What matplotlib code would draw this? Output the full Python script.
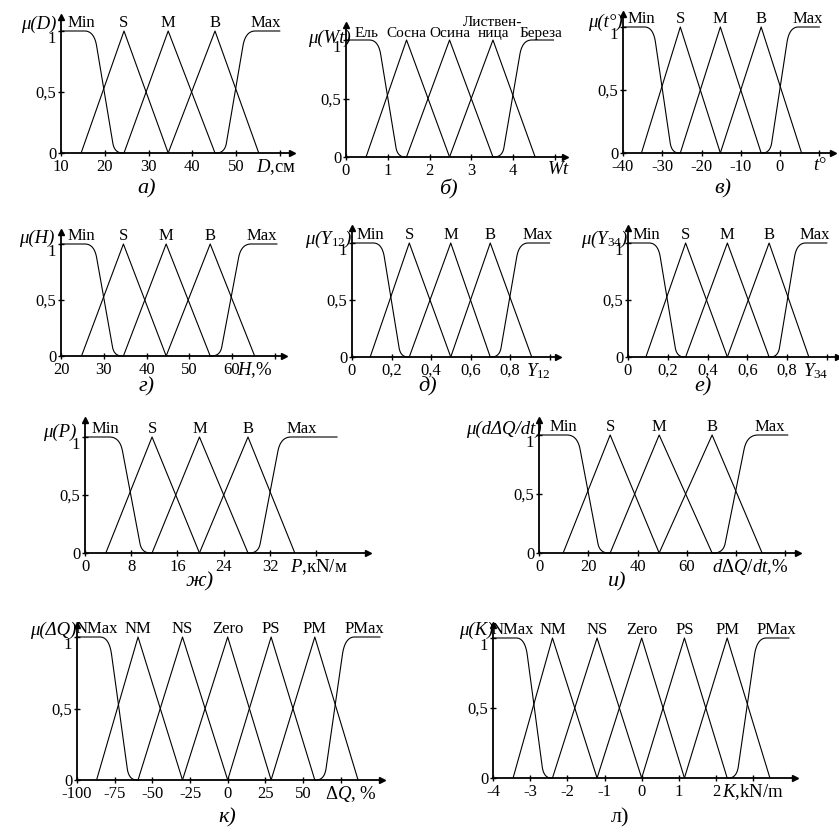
import numpy as np
import matplotlib
matplotlib.use('Agg')
import matplotlib.pyplot as plt
from matplotlib.transforms import offset_copy

plt.rcParams['font.family'] = ['Liberation Serif', 'DejaVu Serif']
plt.rcParams['mathtext.fontset'] = 'custom'
plt.rcParams['mathtext.rm'] = 'Liberation Serif'
plt.rcParams['mathtext.it'] = 'Liberation Serif:italic'
plt.rcParams['mathtext.default'] = 'it'

W, H = 839, 832

# term names
terms5 = ['Min', 'S', 'M', 'B', 'Max']
terms_wood = ['Ель', 'Сосна', 'Осина', 'Листвен-\nница', 'Береза']
terms7 = ['NMax', 'NM', 'NS', 'Zero', 'PS', 'PM', 'PMax']

# breakpoints (feet / peaks) of membership functions
bp_D = [14.6, 24.4, 34.5, 45.2, 55.2]
bp_Wt = [0.48, 1.45, 2.48, 3.52, 4.53]
bp_t = [-35.3, -25.4, -15.2, -4.8, 5.5]
bp_H = [24.8, 34.6, 44.6, 54.9, 65.3]
bp_Y12 = [0.092, 0.29, 0.5, 0.70, 0.91]
bp_Y34 = [0.09, 0.29, 0.5, 0.71, 0.91]
bp_P = [3.6, 11.6, 19.8, 28.2, 36.3]
bp_dQ = [9.8, 28.9, 48.8, 70.3, 90.6]
bp_Q = [-87, -59.5, -30, 0, 28.8, 57.8, 86.5]
bp_K = [-3.46, -2.4, -1.2, 0, 1.15, 2.3, 3.45]

# extent of the flat parts of the outer terms
ext_D = [10, 60]
ext_Wt = [0, 4.97]
ext_t = [-40, 10]
ext_H = [20, 70.5]
ext_Y12 = [0, 1.0]
ext_Y34 = [0, 1.0]
ext_P = [0, 43.6]
ext_dQ = [0, 101]
ext_Q = [-100, 101]
ext_K = [-4, 3.96]

# axis ticks and labels
ticks_D = [10, 20, 30, 40, 50, 60]
tl_D = ['10', '20', '30', '40', '50', '']
ticks_Wt = [0, 1, 2, 3, 4, 5]
tl_Wt = ['0', '1', '2', '3', '4', '']
ticks_t = [-40, -30, -20, -10, 0, 10]
tl_t = ['-40', '-30', '-20', '-10', '0', '']
ticks_H = [20, 30, 40, 50, 60, 70]
tl_H = ['20', '30', '40', '50', '60', '']
ticks_Y = [0, 0.2, 0.4, 0.6, 0.8, 1.0]
tl_Y = ['0', '0,2', '0,4', '0,6', '0,8', '']
ticks_P = [0, 8, 16, 24, 32, 40]
tl_P = ['0', '8', '16', '24', '32', '']
ticks_dQ = [0, 20, 40, 60, 80, 100]
tl_dQ = ['0', '20', '40', '60', '', '']
ticks_Q = [-100, -75, -50, -25, 0, 25, 50, 75]
tl_Q = ['-100', '-75', '-50', '-25', '0', '25', '50', '']
ticks_K = [-4, -3, -2, -1, 0, 1, 2, 3]
tl_K = ['-4', '-3', '-2', '-1', '0', '1', '2', '']
yticks = [0, 0.5, 1]
ytl = ['0', '0,5', '1']

fig = plt.figure(figsize=(W / 100, H / 100), dpi=100)


def shoulder(a, b, n=25):
    # rounded fall from 1 at a to 0 at b
    t = np.linspace(0, 1, n)[:, None]

    def bez(p0, p1, p2):
        p0, p1, p2 = np.array(p0), np.array(p1), np.array(p2)
        return (1 - t) ** 2 * p0 + 2 * (1 - t) * t * p1 + t ** 2 * p2
    top = bez((0.08, 1), (0.30, 1), (0.36, 0.88))
    bot = bez((0.74, 0.08), (0.78, 0), (0.97, 0))
    pts = np.vstack([[0, 1], top, bot, [1, 0]])
    return a + pts[:, 0] * (b - a), pts[:, 1]


def panel(geom, bp, names, ext, ticks, tls, mu, mu_pos, xlab, xlab_x, letter, letter_pos,
          letter_style='italic', term_fs=12):
    x0, y0, y1, xtip, ytop, xmin, scale = geom
    ax = fig.add_axes([x0 / W, 1 - y0 / H, (xtip - x0) / W, (y0 - ytop) / H])
    ax.set_xlim(xmin, xmin + (xtip - x0) / scale)
    ax.set_ylim(0, (y0 - ytop) / (y0 - y1))
    for s in ['top', 'right']:
        ax.spines[s].set_visible(False)
    for s in ['left', 'bottom']:
        ax.spines[s].set_linewidth(1.3)
    ax.plot(1, 0, '>k', ms=5, transform=ax.transAxes, clip_on=False)
    ax.plot(0, 1, '^k', ms=5, transform=ax.transAxes, clip_on=False)

    lw = 0.8
    # outer terms
    xs, ys = shoulder(bp[0], bp[1])
    ax.plot(np.r_[ext[0], xs], np.r_[1, ys], color='k', lw=lw, clip_on=False)
    xs, ys = shoulder(bp[-1], bp[-2])
    ax.plot(np.r_[ext[1], xs], np.r_[1, ys], color='k', lw=lw, clip_on=False)
    # triangular terms
    for i in range(len(bp) - 2):
        ax.plot(bp[i:i + 3], [0, 1, 0], color='k', lw=lw)

    # term labels
    lab_tr = offset_copy(ax.transData, fig=fig, x=0, y=0, units='dots')
    lab_x = [bp[0]] + list(bp[1:-1]) + [bp[-1] + 0.15 * (bp[-1] - bp[-2])]
    for lx, nm in zip(lab_x, names):
        ax.text(lx, 1, nm, transform=lab_tr, ha='center', va='bottom',
                fontsize=term_fs, linespacing=0.85)

    ax.set_xticks(ticks, tls)
    ax.set_yticks(yticks, ytl)
    ax.tick_params(axis='x', direction='inout', length=5, width=1, labelsize=12, pad=1.5)
    ax.tick_params(axis='y', direction='inout', length=5, width=1, labelsize=12, pad=1)
    ax.get_yticklabels()[2].set_va('top')

    fig.text(mu_pos[0] / W, 1 - mu_pos[1] / H, mu, ha='right', va='center',
             fontsize=13.5, style='italic')
    fig.text(xlab_x / W, 1 - (y0 + 4) / H, xlab, ha='left', va='top', fontsize=13.5)
    fig.text(letter_pos[0] / W, 1 - letter_pos[1] / H, letter, ha='center', va='center',
             fontsize=16, style=letter_style)
    return ax


panel((61, 153, 31, 292, 17, 10, 4.375), bp_D, terms5, ext_D, ticks_D, tl_D,
      'μ(D)', (56, 24), '$D$,см', 256, 'а)', (147, 189))
panel((346, 157, 40, 565, 25, 0, 41.75), bp_Wt, terms_wood, ext_Wt, ticks_Wt, tl_Wt,
      'μ(Wt)', (351, 38), '$Wt$', 547, 'б)', (448, 189), term_fs=11)
panel((623, 153, 27, 833, 14, -40, 3.925), bp_t, terms5, ext_t, ticks_t, tl_t,
      'μ(t°)', (623, 22), '$t$°', 813, 'в)', (723, 189))
panel((61, 356, 244, 284, 232, 20, 4.275), bp_H, terms5, ext_H, ticks_H, tl_H,
      'μ(H)', (54, 238), '$H$,%', 237, 'г)', (147, 387))
panel((352, 357, 243, 558, 228, 0, 197.5), bp_Y12, terms5, ext_Y12, ticks_Y, tl_Y,
      'μ(Y$_{12}$)', (353, 239), '$Y_{12}$', 526, 'д)', (428, 387))
panel((628, 357, 243, 838, 228, 0, 198.75), bp_Y34, terms5, ext_Y34, ticks_Y, tl_Y,
      'μ(Y$_{34}$)', (629, 239), '$Y_{34}$', 803, 'е)', (703, 387))
panel((85, 553, 437, 368, 420, 0, 5.78), bp_P, terms5, ext_P, ticks_P, tl_P,
      'μ(P)', (76, 432), '$P$,кN/м', 290, 'ж)', (200, 582))
panel((539, 553, 435, 798, 420, 0, 2.4625), bp_dQ, terms5, ext_dQ, ticks_dQ, tl_dQ,
      'μ(dΔQ/dt)', (542, 429), r'$d\Delta Q/dt$,%', 712, 'и)', (617, 582))
panel((77, 780, 637, 382, 625, -100, 1.507), bp_Q, terms7, ext_Q, ticks_Q, tl_Q,
      'μ(ΔQ)', (76, 630), r'Δ$Q$, %', 325, 'к)', (227, 818))
panel((493, 778, 638, 795, 625, -4, 37.17), bp_K, terms7, ext_K, ticks_K, tl_K,
      'μ(K)', (493, 630), '$K$,kN/m', 722, 'л)', (620, 818), letter_style='normal')

fig.savefig('out.png', dpi=100)
